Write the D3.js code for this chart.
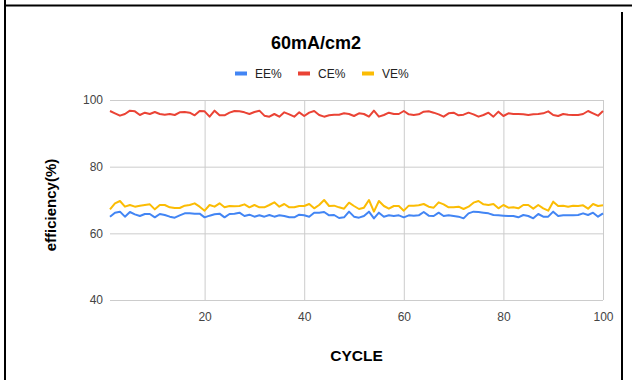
<!DOCTYPE html>
<html>
<head>
<meta charset="utf-8">
<script src="https://cdn.jsdelivr.net/npm/d3@7"></script>
<style>
  html, body { margin: 0; padding: 0; background: #fff; }
  svg { display: block; font-family: Arial, "Liberation Sans", sans-serif; }
</style>
</head>
<body>
<svg id="chart" width="632" height="380"></svg>
<script>
// Efficiency per cycle at 60 mA/cm2
const cycles = d3.range(1, 101);

const eeValues = [
  65.0,66.2,66.5,65.0,66.4,65.7,65.2,65.8,65.8,64.8,65.8,65.5,65.0,64.7,65.4,66.0,66.0,65.9,65.9,64.8,
  65.3,65.7,65.9,64.8,65.8,65.9,66.2,65.2,65.6,65.0,65.4,65.0,65.5,65.0,65.4,65.2,64.8,64.8,65.6,65.4,
  65.0,66.2,66.2,66.4,65.4,65.5,64.6,64.8,66.5,65.0,64.7,
  65.2,66.5,64.5,66.2,65.0,65.4,65.2,65.4,64.8,65.4,65.3,65.4,66.4,65.3,65.2,66.2,65.2,65.4,65.2,65.0,
  64.5,66.0,66.5,66.4,66.2,66.0,65.5,65.4,65.3,65.2,65.2,64.8,65.5,65.2,64.5,65.8,65.0,65.0,66.5,65.2,
  65.4,65.4,65.4,65.5,66.0,65.5,66.2,65.0,66.0
];

const ceValues = [
  96.7,96.0,95.3,95.8,96.8,96.6,95.5,96.2,95.8,96.4,95.8,95.6,95.8,95.5,96.3,96.4,96.2,95.4,96.7,96.6,
  95.0,96.8,95.4,95.4,96.2,96.7,96.6,96.3,95.8,96.4,96.8,95.3,95.0,95.8,95.0,96.3,95.7,95.0,96.3,95.2,
  96.2,96.7,95.5,95.0,95.4,95.6,95.6,96.0,95.8,95.2,96.0,
  95.8,95.0,96.8,95.0,95.5,96.2,95.8,95.8,96.7,95.7,95.5,95.7,96.5,96.6,96.2,95.7,95.0,96.0,96.2,95.4,
  95.6,96.2,95.7,95.0,95.5,96.2,95.0,96.5,95.2,96.0,95.8,95.8,95.7,95.5,95.7,95.8,96.0,96.6,95.5,95.2,
  95.8,95.6,95.5,95.5,95.8,96.7,96.0,95.3,96.7
];

const veValues = [
  67.2,69.0,69.7,68.0,68.5,68.0,68.3,68.5,68.7,67.2,68.5,68.5,67.8,67.6,67.6,68.3,68.5,69.0,68.0,66.8,
  68.5,68.0,69.0,67.8,68.2,68.1,68.2,68.7,67.8,68.5,67.8,67.8,68.5,69.3,68.0,68.8,67.8,67.8,68.2,68.2,
  68.8,67.5,68.5,70.0,68.2,68.3,67.8,67.4,69.2,68.2,67.3,
  67.7,70.0,66.5,69.7,68.2,67.4,68.2,68.2,66.8,68.3,68.3,68.4,68.8,68.0,67.7,69.3,68.7,67.8,67.8,68.0,
  67.3,68.0,69.2,69.7,68.7,68.5,68.8,67.5,68.5,67.7,67.8,67.5,68.5,68.5,67.4,68.5,67.5,66.8,69.5,68.2,
  68.3,68.0,68.3,68.2,68.4,67.4,68.8,68.2,68.4
];

const seriesNames = ["EE%", "CE%", "VE%"];
const seriesColors = ["#4285F4", "#EA4335", "#FBBC04"];
const xTicks = [20, 40, 60, 80, 100];
const yTicks = [40, 60, 80, 100];

const series = [eeValues, ceValues, veValues].map((vals, i) => ({
  name: seriesNames[i],
  color: seriesColors[i],
  points: vals.map((v, j) => ({ x: cycles[j], y: v }))
}));

const svg = d3.select("#chart");
const plot = { left: 110, right: 603, top: 100, bottom: 300 };

const x = d3.scaleLinear().domain([1, 100]).range([plot.left, plot.right]);
const y = d3.scaleLinear().domain([40, 100]).range([plot.bottom, plot.top]);

// outer frame lines
svg.append("line").attr("x1", 5).attr("x2", 5).attr("y1", 0).attr("y2", 380)
  .attr("stroke", "#000").attr("stroke-width", 2);
svg.append("line").attr("x1", 4).attr("x2", 632).attr("y1", 5.5).attr("y2", 5.5)
  .attr("stroke", "#000").attr("stroke-width", 2);
svg.append("line").attr("x1", 622).attr("x2", 622).attr("y1", 12).attr("y2", 380)
  .attr("stroke", "#000").attr("stroke-width", 2);

// title
svg.append("text").attr("x", 316).attr("y", 49).attr("text-anchor", "middle")
  .attr("font-size", 18).attr("font-weight", "bold").attr("fill", "#000")
  .text("60mA/cm2");

// legend
const legendX = [235, 298, 362];
const legend = svg.append("g");
series.forEach((s, i) => {
  legend.append("rect").attr("x", legendX[i]).attr("y", 71.5).attr("width", 12).attr("height", 4)
    .attr("fill", s.color);
  legend.append("text").attr("x", legendX[i] + 20).attr("y", 78)
    .attr("font-size", 12).attr("fill", "#222").text(s.name);
});

// horizontal gridlines + y labels
const yAxis = d3.axisLeft(y).tickValues(yTicks).tickSize(-(plot.right - plot.left)).tickPadding(7);
const gy = svg.append("g").attr("transform", `translate(${plot.left},0)`).call(yAxis);
gy.select(".domain").remove();
gy.selectAll(".tick line").attr("stroke", "#ccc").attr("stroke-width", 1);
gy.selectAll(".tick text").attr("font-size", 12).attr("fill", "#444")
  .attr("font-family", "Arial, 'Liberation Sans', sans-serif");

// vertical gridlines + x labels
const xAxis = d3.axisBottom(x).tickValues(xTicks).tickSize(-(plot.bottom - plot.top)).tickPadding(12);
const gx = svg.append("g").attr("transform", `translate(0,${plot.bottom})`).call(xAxis);
gx.select(".domain").remove();
gx.selectAll(".tick line").attr("stroke", "#ccc").attr("stroke-width", 1);
gx.selectAll(".tick text").attr("font-size", 12).attr("fill", "#444")
  .attr("font-family", "Arial, 'Liberation Sans', sans-serif");

// data lines
const line = d3.line().x(d => x(d.x)).y(d => y(d.y));
series.forEach(s => {
  svg.append("path").datum(s.points).attr("d", line)
    .attr("fill", "none").attr("stroke", s.color).attr("stroke-width", 2)
    .attr("stroke-linejoin", "round");
});

// axis titles
svg.append("text").attr("x", (plot.left + plot.right) / 2).attr("y", 361)
  .attr("text-anchor", "middle").attr("font-size", 15.5).attr("font-weight", "bold")
  .attr("fill", "#000").text("CYCLE");
svg.append("text").attr("transform", `translate(56,${(plot.top + plot.bottom) / 2 + 5}) rotate(-90)`)
  .attr("text-anchor", "middle").attr("font-size", 15).attr("font-weight", "bold")
  .attr("fill", "#000").text("efficiency(%)");
</script>
</body>
</html>
